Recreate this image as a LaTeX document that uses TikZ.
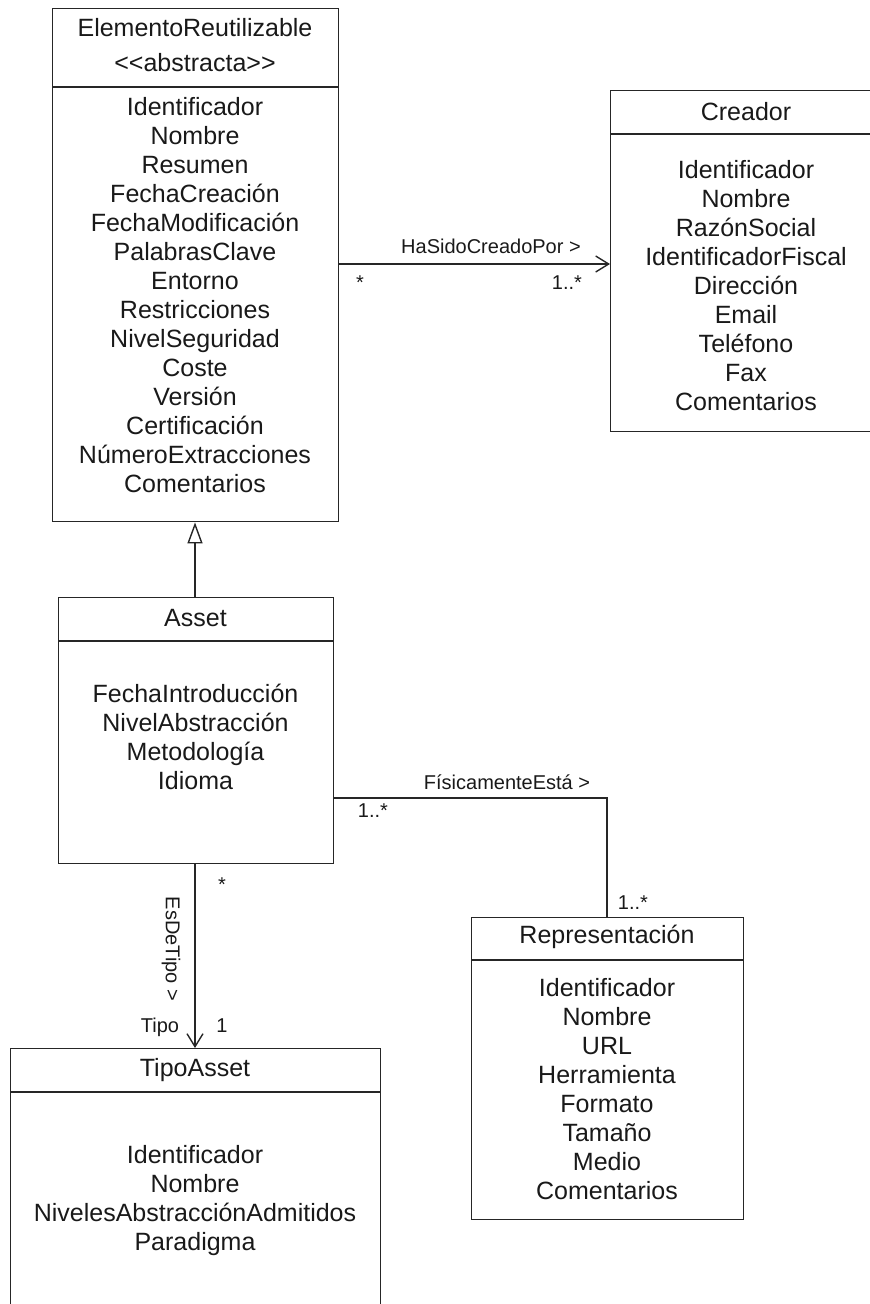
\documentclass[tikz,border=0pt]{standalone}
\usepackage{fontspec}
\setmainfont{Liberation Sans}
\usetikzlibrary{arrows.meta}
\begin{document}
\begin{tikzpicture}[x=1pt,y=-1pt,
  ln/.style={draw=black!85, line width=1.4pt},
  cls/.style={ln, rectangle, inner sep=0pt, anchor=north west},
  txt/.style={font=\fontsize{25}{29}\selectfont, align=center, inner sep=0pt, text=black!90},
  lbl/.style={font=\fontsize{20}{24}\selectfont, inner sep=0pt, text=black!90},
  assoc/.style={ln, -{Straight Barb[length=13pt,width=16pt,line width=1.4pt]}},
  gen/.style={ln, -{Triangle[open,fill=white,length=21pt,width=15pt,line width=1.4pt]}}
]
\useasboundingbox (0,0) rectangle (870,1304);
\clip (0,0) rectangle (870,1304);

% ElementoReutilizable
\node[cls, minimum width=286pt, minimum height=513pt] (er) at (52,8) {};
\draw[ln] (er.west |- 0,87) -- (er.east |- 0,87);
\node[txt] (ertitle) at (195,45.5) {ElementoReutilizable\\[6pt]<\kern0pt<abstracta>\kern0pt>};
\node[txt] (eritems) at (195,295.5) {Identificador\\Nombre\\Resumen\\FechaCreación\\FechaModificación\\PalabrasClave\\Entorno\\Restricciones\\NivelSeguridad\\Coste\\Versión\\Certificación\\NúmeroExtracciones\\Comentarios};

% Creador
\node[cls, minimum width=270pt, minimum height=341pt] (cr) at (610,90) {};
\draw[ln] (cr.west |- 0,134) -- (cr.east |- 0,134);
\node[txt] (crtitle) at (746,112) {Creador};
\node[txt] (critems) at (746,286) {Identificador\\Nombre\\RazónSocial\\IdentificadorFiscal\\Dirección\\Email\\Teléfono\\Fax\\Comentarios};

% Asset
\node[cls, minimum width=275pt, minimum height=266pt] (as) at (58,597) {};
\draw[ln] (as.west |- 0,641) -- (as.east |- 0,641);
\node[txt] (astitle) at (195.5,618) {Asset};
\node[txt] (asitems) at (195.5,737) {FechaIntroducción\\NivelAbstracción\\Metodología\\Idioma};

% Representacion
\node[cls, minimum width=272pt, minimum height=302pt] (rp) at (471,917) {};
\draw[ln] (rp.west |- 0,960) -- (rp.east |- 0,960);
\node[txt] (rptitle) at (607,937) {Representación};
\node[txt] (rpitems) at (607,1089) {Identificador\\Nombre\\URL\\Herramienta\\Formato\\Tamaño\\Medio\\Comentarios};

% TipoAsset
\node[cls, minimum width=370pt, minimum height=300pt] (ta) at (10,1048) {};
\draw[ln] (ta.west |- 0,1092) -- (ta.east |- 0,1092);
\node[txt] (tatitle) at (195,1070) {TipoAsset};
\node[txt] (taitems) at (195,1201) {Identificador\\Nombre\\NivelesAbstracciónAdmitidos\\Paradigma};

% Generalization
\draw[gen] (as.north -| 195,0) -- (er.south -| 195,0);

% HaSidoCreadoPor
\coordinate (c1) at (er.east |- 0,264);
\coordinate (c2) at (cr.west |- 0,264);
\draw[assoc] (c1) -- (c2);
\node[lbl, anchor=base] (l1) at (491,253) {HaSidoCreadoPor >};
\node[lbl, anchor=base] (l1a) at (360,289) {*};
\node[lbl, anchor=base] (l1b) at (567,289) {1..*};

% FisicamenteEsta
\coordinate (f1) at (as.east |- 0,798);
\coordinate (f2) at (607,798);
\draw[ln] (f1) -- (f2) -- (rp.north -| f2);
\node[lbl, anchor=base] (l2) at (507,789) {FísicamenteEstá >};
\node[lbl, anchor=base] (l2a) at (373,817) {1..*};
\node[lbl, anchor=base] (l2b) at (633,909) {1..*};

% EsDeTipo
\draw[assoc] (as.south -| 195,0) -- (ta.north -| 195,0);
\node[lbl, rotate=-90] (l3) at (171,949) {EsDeTipo >};
\node[lbl, anchor=base] (l3a) at (222,891) {*};
\node[lbl, anchor=base] (l3b) at (160,1032) {Tipo};
\node[lbl, anchor=base] (l3c) at (222,1032) {1};
\end{tikzpicture}
\end{document}
